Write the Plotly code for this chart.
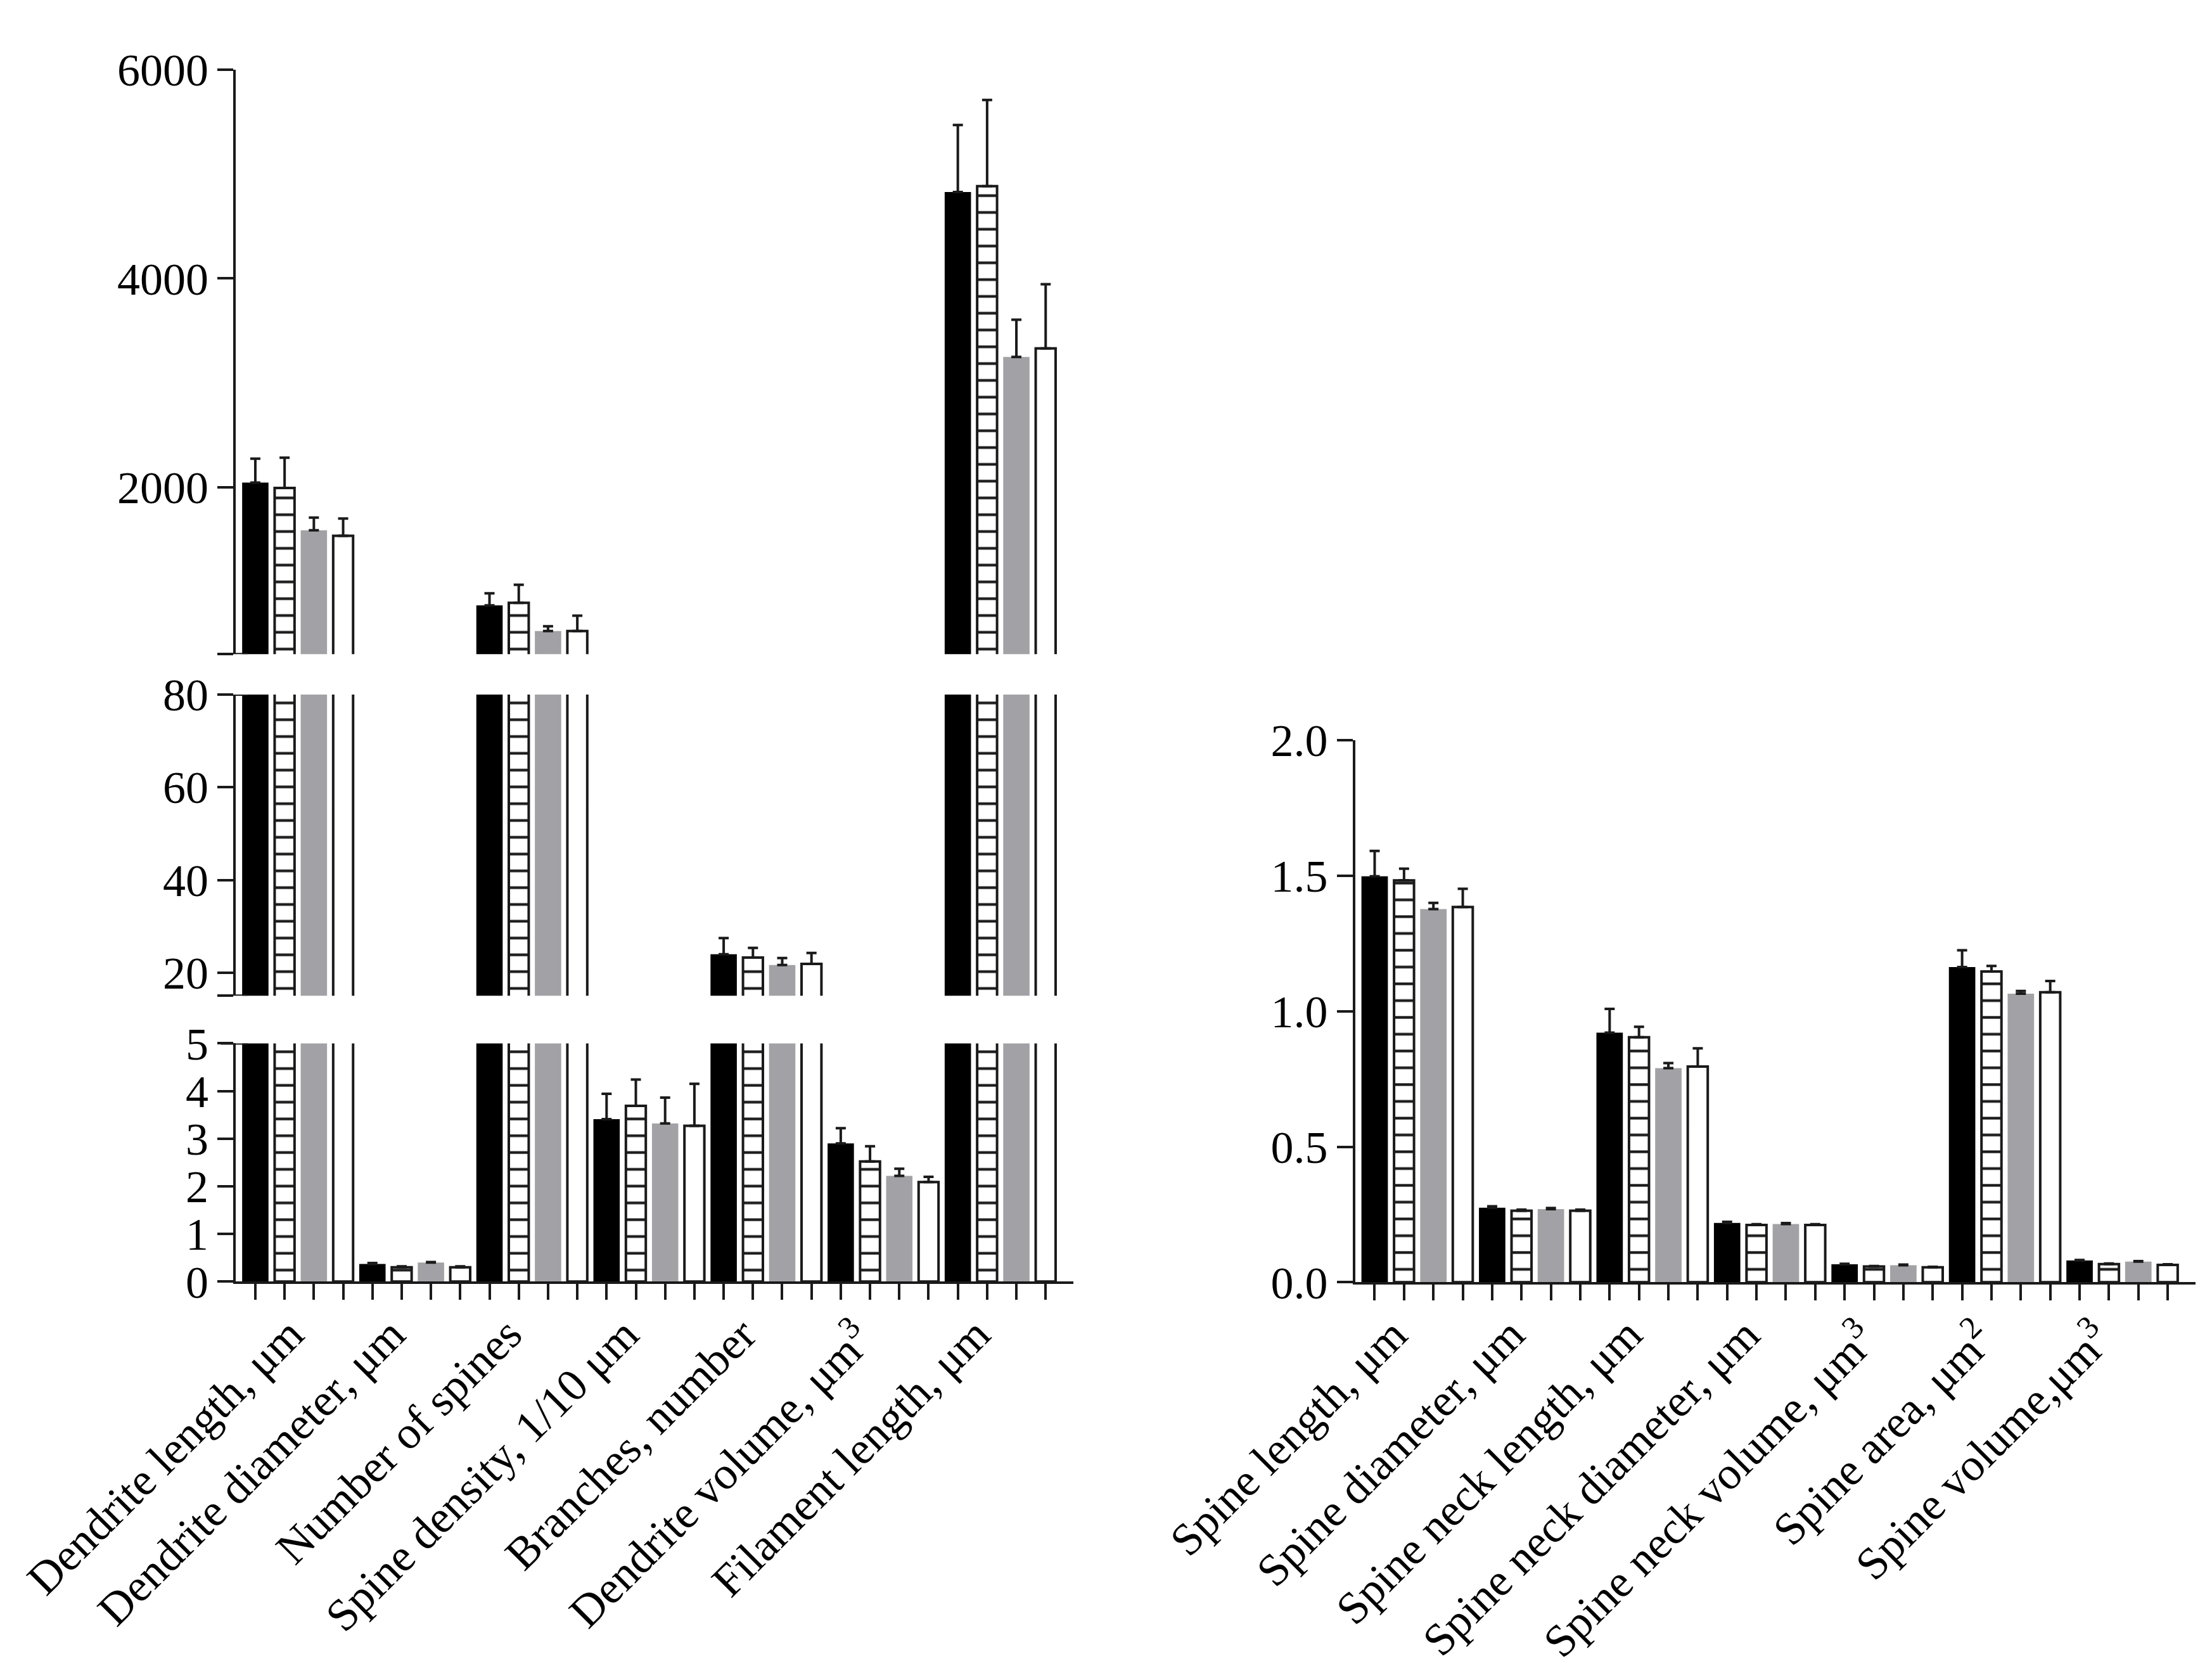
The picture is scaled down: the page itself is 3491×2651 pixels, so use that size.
import plotly.graph_objects as go

# ---------------- data ----------------
left_categories = ["Dendrite length, μm", "Dendrite diameter, μm", "Number of spines",
                   "Spine density, 1/10 μm", "Branches, number",
                   "Dendrite volume, μm<sup>3</sup>", "Filament length, μm"]
right_categories = ["Spine length, μm", "Spine diameter, μm", "Spine neck length, μm",
                    "Spine neck diameter, μm", "Spine neck volume, μm<sup>3</sup>",
                    "Spine area, μm<sup>2</sup>", "Spine volume,μm<sup>3</sup>"]

left_black = [2044, 0.37, 867, 3.41, 23.97, 2.90, 4828]
left_black_err = [229, 0.02, 115, 0.53, 3.48, 0.32, 642]
left_hatched = [1992, 0.30, 892, 3.69, 23.25, 2.52, 4884]
left_hatched_err = [290, 0.02, 172, 0.55, 2.10, 0.32, 826]
left_gray = [1587, 0.40, 621, 3.32, 21.65, 2.22, 3247]
left_gray_err = [121, 0.01, 46, 0.54, 1.50, 0.15, 357]
left_white = [1534, 0.30, 621, 3.27, 21.90, 2.09, 3330]
left_white_err = [165, 0.02, 148, 0.88, 2.35, 0.11, 615]

right_black = [1.498, 0.275, 0.921, 0.219, 0.066, 1.163, 0.080]
right_black_err = [0.094, 0.005, 0.088, 0.004, 0.002, 0.062, 0.002]
right_hatched = [1.483, 0.264, 0.904, 0.211, 0.058, 1.147, 0.067]
right_hatched_err = [0.043, 0.004, 0.039, 0.003, 0.002, 0.020, 0.002]
right_gray = [1.377, 0.270, 0.790, 0.215, 0.063, 1.065, 0.076]
right_gray_err = [0.023, 0.004, 0.019, 0.003, 0.002, 0.010, 0.002]
right_white = [1.385, 0.264, 0.796, 0.211, 0.055, 1.070, 0.064]
right_white_err = [0.067, 0.004, 0.067, 0.003, 0.002, 0.042, 0.002]

left_bottom_ticks = [0, 1, 2, 3, 4, 5]
left_mid_ticks = [15, 20, 40, 60, 80]
left_mid_text = ["", "20", "40", "60", "80"]
left_top_ticks = [400, 2000, 4000, 6000]
left_top_text = ["", "2000", "4000", "6000"]
right_ticks = [0, 0.5, 1.0, 1.5, 2.0]
right_text = ["0.0", "0.5", "1.0", "1.5", "2.0"]

# ---------------- styling ----------------
INK = "#1a1a1a"
FONT = dict(family="Liberation Serif", size=72, color="black")
styles = [
    dict(marker=dict(color="#000000", line=dict(width=0)), width=0.9),
    dict(marker=dict(color="white", line=dict(color=INK, width=4),
                     pattern=dict(shape="-", fgcolor=INK, bgcolor="white",
                                  size=26.5, solidity=0.16, fillmode="replace")), width=0.68),
    dict(marker=dict(color="#a2a2a6", line=dict(width=0)), width=0.9),
    dict(marker=dict(color="white", line=dict(color=INK, width=4)), width=0.68),
]

left_series = [(left_black, left_black_err), (left_hatched, left_hatched_err),
               (left_gray, left_gray_err), (left_white, left_white_err)]
right_series = [(right_black, right_black_err), (right_hatched, right_hatched_err),
                (right_gray, right_gray_err), (right_white, right_white_err)]

fig = go.Figure()


def add_series(series, xa, ya):
    for k, (vals, errs) in enumerate(series):
        xs = [4 * g + k for g in range(len(vals))]
        st = styles[k]
        fig.add_trace(go.Bar(
            x=xs, y=vals, width=st["width"], marker=st["marker"],
            error_y=dict(type="data", array=errs, arrayminus=[0] * len(errs),
                         symmetric=False, color=INK, thickness=4, width=8),
            xaxis=xa, yaxis=ya, showlegend=False, hoverinfo="skip"))


# left chart: three stacked panels (broken axis)
for xa, ya in [("x", "y"), ("x2", "y2"), ("x3", "y3")]:
    add_series(left_series, xa, ya)
# right chart
add_series(right_series, "x4", "y4")

XR = [-0.66, 27.95]
LX = [0.1044, 0.483]
RX = [0.6104, 0.9903]

common_y = dict(showline=True, linewidth=4, linecolor=INK, ticks="outside",
                ticklen=25, tickwidth=4, tickcolor=INK, showgrid=False,
                zeroline=False, tickfont=FONT, tickmode="array")
common_x_vis = dict(showline=True, linewidth=4, linecolor=INK, ticks="outside",
                    ticklen=25, tickwidth=4, tickcolor=INK, tickmode="array",
                    tickvals=list(range(28)), showticklabels=False,
                    showgrid=False, zeroline=False, range=XR)
hidden_x = dict(visible=False, range=XR, showgrid=False, zeroline=False)

fig.update_layout(
    width=3491, height=2651,
    margin=dict(l=0, r=0, t=0, b=0),
    paper_bgcolor="white", plot_bgcolor="white",
    barmode="overlay", font=FONT,
    xaxis=dict(domain=LX, anchor="y", **common_x_vis),
    yaxis=dict(domain=[0.2317, 0.3779], range=[0, 5], anchor="x",
               tickvals=left_bottom_ticks, ticktext=[str(t) for t in left_bottom_ticks], **common_y),
    xaxis2=dict(domain=LX, anchor="y2", **hidden_x),
    yaxis2=dict(domain=[0.4071, 0.5920], range=[15, 80], anchor="x2",
                tickvals=left_mid_ticks, ticktext=left_mid_text, **common_y),
    xaxis3=dict(domain=LX, anchor="y3", **hidden_x),
    yaxis3=dict(domain=[0.6168, 0.9755], range=[400, 6000], anchor="x3",
                tickvals=left_top_ticks, ticktext=left_top_text, **common_y),
    xaxis4=dict(domain=RX, anchor="y4", **common_x_vis),
    yaxis4=dict(domain=[0.2313, 0.5639], range=[0, 2.0], anchor="x4",
                tickvals=right_ticks, ticktext=right_text, **common_y),
)

# short break marks crossing the left axis at the ends of each segment
for yref, yv in [("y3", 400), ("y2", 80), ("y2", 15), ("y", 5)]:
    fig.add_shape(type="line", xref="x domain", yref=yref, x0=-0.018, x1=0.014,
                  y0=yv, y1=yv, line=dict(color=INK, width=4), layer="above")

# rotated category labels
LABEL_Y = 1 - 2078 / 2651
for cats, xref in [(left_categories, "x"), (right_categories, "x4")]:
    for g, name in enumerate(cats):
        shift = 0.55 if (xref == "x" and g == 0) else 0.0
        fig.add_annotation(x=4 * g + 1.5 + shift, y=LABEL_Y, xref=xref, yref="paper",
                           text=name, textangle=-45, showarrow=False,
                           xanchor="right", yanchor="top", font=FONT)

fig.write_html("out.html")
